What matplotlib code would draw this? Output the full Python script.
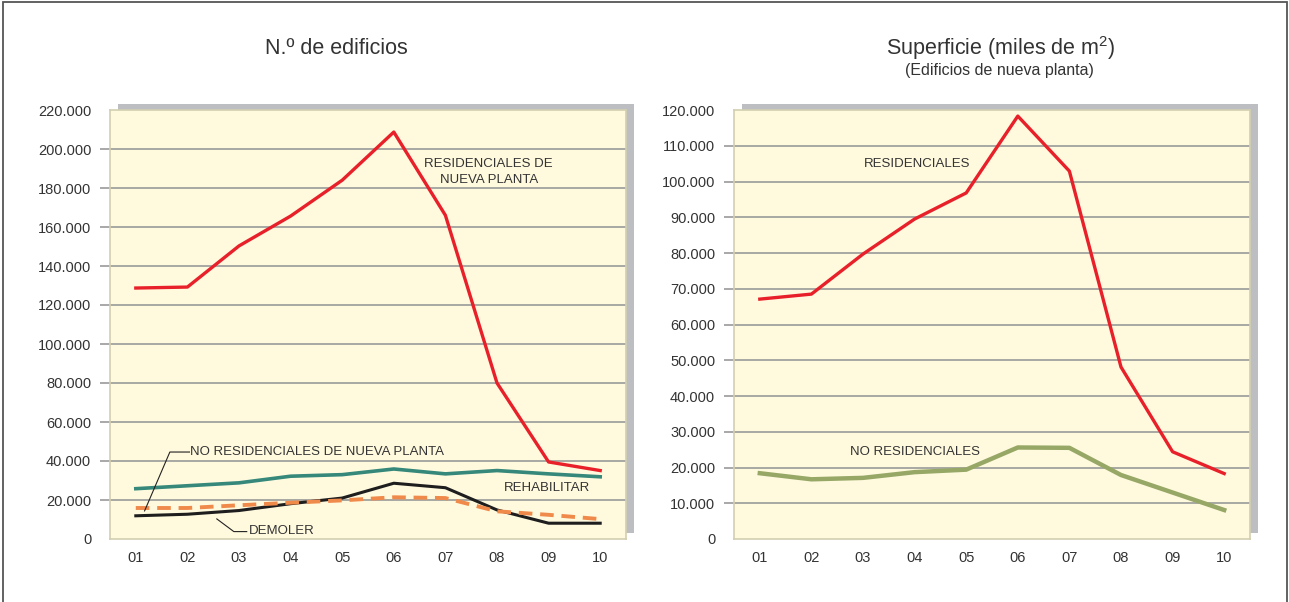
import matplotlib
matplotlib.use("Agg")
import matplotlib.pyplot as plt
from matplotlib.patches import Rectangle
from matplotlib.ticker import FuncFormatter

# datos (años 2001-2010)
years = ["01", "02", "03", "04", "05", "06", "07", "08", "09", "10"]

# N.º de edificios
resid_nueva = [128700, 129200, 150300, 165600, 184000, 208700, 166000, 80000, 39500, 35100]
rehabilitar = [25800, 27300, 28800, 32200, 33000, 35900, 33400, 35100, 33400, 31900]
demoler = [11900, 12700, 14600, 18100, 21000, 28600, 26300, 14900, 8100, 8100]
no_resid_nueva = [15900, 15900, 17300, 18600, 19800, 21400, 21000, 14200, 12400, 10200]

# Superficie (miles de m2), edificios de nueva planta
sup_resid = [67100, 68500, 79700, 89500, 96800, 118300, 102900, 48100, 24400, 18300]
sup_no_resid = [18400, 16700, 17100, 18700, 19400, 25600, 25500, 17900, 13000, 8100]

left_ticks = list(range(0, 220001, 20000))
right_ticks = list(range(0, 120001, 10000))

plt.rcParams['font.family'] = ['Liberation Sans Narrow', 'Liberation Sans', 'DejaVu Sans']
TXT = '#333333'
FACE = '#FFFADE'
SHADOW = '#BDBEC2'
GRID = '#9A9A9A'
REG = ['Liberation Sans', 'DejaVu Sans']

W, H = 1289, 602
fig = plt.figure(figsize=(W / 100, H / 100), dpi=100)

# marco exterior
fig.patches.append(Rectangle((3 / W, -0.05), (1287 - 3) / W, 1.05 - 2 / H,
                             transform=fig.transFigure, fill=False,
                             edgecolor='#555555', linewidth=1.3))


def miles(v, pos):
    return f"{int(v):,}".replace(",", ".")


def make_axes(x0, ticks, ymax):
    left, right, top, bottom = x0, x0 + 516, 110, 539
    # sombra gris detrás del área de trazado
    fig.patches.append(Rectangle(((left + 8) / W, (H - bottom + 6) / H),
                                 (right - left) / W, (bottom - top) / H,
                                 transform=fig.transFigure, facecolor=SHADOW,
                                 edgecolor='none', zorder=0))
    ax = fig.add_axes([left / W, (H - bottom) / H, (right - left) / W, (bottom - top) / H])
    ax.set_facecolor(FACE)
    ax.set_zorder(1)
    ax.set_xlim(-0.5, len(years) - 0.5)
    ax.set_ylim(0, ymax)
    ax.set_xticks(range(len(years)))
    ax.set_xticklabels(years)
    ax.set_yticks(ticks)
    ax.yaxis.set_major_formatter(FuncFormatter(miles))
    ax.grid(axis='y', color=GRID, linewidth=1.2)
    ax.set_axisbelow(True)
    ax.tick_params(axis='x', length=0, pad=9, labelsize=10.5, labelcolor=TXT)
    ax.tick_params(axis='y', length=7.5, width=1.2, color=GRID, pad=6,
                   labelsize=10.5, labelcolor=TXT)
    # sin marca en 0 ni en el máximo
    yt = ax.yaxis.get_major_ticks()
    for t in (yt[0], yt[-1]):
        t.tick1line.set_visible(False)
        t.gridline.set_visible(False)
    for s in ax.spines.values():
        s.set_color('#D2CFB0')
        s.set_linewidth(1.2)
    return ax


x = list(range(len(years)))

# --- izquierda: N.º de edificios
ax1 = make_axes(110, left_ticks, 220000)
ax1.plot(x, rehabilitar, color='#35887A', linewidth=2.6, zorder=3)
ax1.plot(x, demoler, color='#1E1E1E', linewidth=2.2, zorder=3)
ax1.plot(x, no_resid_nueva, color='#F08A4B', linewidth=2.8, linestyle=(0, (3.5, 2)), zorder=4)
ax1.plot(x, resid_nueva, color='#E8202A', linewidth=2.4, zorder=5)

fig.text(336 / W, 1 - 49 / H, "N.º de edificios", ha='center', va='center',
         fontsize=15.5, color=TXT, family=REG)

ax1.text(6.84, 188200, "RESIDENCIALES DE\nNUEVA PLANTA", ha='center', va='center',
         fontsize=9.5, color=TXT, linespacing=1.35)
ax1.text(7.97, 26200, "REHABILITAR", ha='center', va='center', fontsize=9.5, color=TXT)
ax1.text(1.05, 44600, "NO RESIDENCIALES DE NUEVA PLANTA", ha='left', va='center',
         fontsize=9.5, color=TXT)
ax1.plot([1.04, 0.66, 0.17], [44600, 44600, 14400], color='#222222', linewidth=0.8, zorder=6)
ax1.text(2.2, 4100, "DEMOLER", ha='left', va='center', fontsize=9.5, color=TXT)
ax1.plot([1.57, 1.9, 2.15], [10300, 3800, 3800], color='#222222', linewidth=0.8, zorder=6)

# --- derecha: superficie
ax2 = make_axes(734, right_ticks, 120000)
ax2.plot(x, sup_no_resid, color='#97A866', linewidth=3.2, zorder=3)
ax2.plot(x, sup_resid, color='#E8202A', linewidth=2.4, zorder=5)

fig.text(1001 / W, 1 - 48 / H, r"Superficie (miles de m$^{\mathregular{2}}$)", ha='center',
         va='center', fontsize=15.5, color=TXT, family=REG)
fig.text(999 / W, 1 - 71 / H, "(Edificios de nueva planta)", ha='center', va='center',
         fontsize=11.5, color=TXT, family=REG)

ax2.text(3.04, 104900, "RESIDENCIALES", ha='center', va='center', fontsize=9.5, color=TXT)
ax2.text(3.0, 24300, "NO RESIDENCIALES", ha='center', va='center', fontsize=9.5, color=TXT)

fig.savefig("out.png", dpi=100)
